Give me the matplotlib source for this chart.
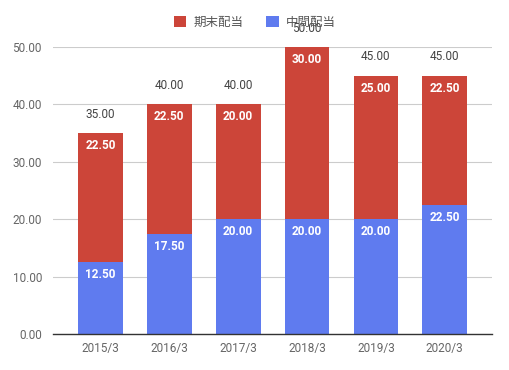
import matplotlib
matplotlib.use("Agg")
import matplotlib.pyplot as plt
import numpy as np

plt.rcParams['font.family'] = ['Roboto', 'Noto Sans CJK JP', 'DejaVu Sans']

categories = ["2015/3", "2016/3", "2017/3", "2018/3", "2019/3", "2020/3"]
interim = [12.5, 17.5, 20.0, 20.0, 20.0, 22.5]   # 中間配当
final = [22.5, 22.5, 20.0, 30.0, 25.0, 22.5]     # 期末配当
series_names = ["期末配当", "中間配当"]
yticks = [0, 10, 20, 30, 40, 50]

red = "#cc4539"
blue = "#5f7bef"

fig = plt.figure(figsize=(5.1, 3.7), dpi=100)
ax = fig.add_axes([0.104, 0.097, 0.861, 0.776])

x = np.arange(len(categories))
w = 0.65
b1 = ax.bar(x, interim, w, color=blue, zorder=2, label=series_names[1])
b2 = ax.bar(x, final, w, bottom=interim, color=red, zorder=2, label=series_names[0])

totals = [a + b for a, b in zip(interim, final)]
for i in range(len(categories)):
    ax.annotate(f"{interim[i]:.2f}", (x[i], interim[i]), xytext=(0, -9),
                textcoords="offset points", ha="center", va="center",
                color="white", fontsize=8.5, fontweight="bold", zorder=3)
    ax.annotate(f"{final[i]:.2f}", (x[i], totals[i]), xytext=(0, -9),
                textcoords="offset points", ha="center", va="center",
                color="white", fontsize=8.5, fontweight="bold", zorder=3)
    ax.annotate(f"{totals[i]:.2f}", (x[i], totals[i]), xytext=(0, 13.5),
                textcoords="offset points", ha="center", va="center",
                color="#444444", fontsize=8.5, zorder=3, annotation_clip=False)

pad = 13 / 69
ax.set_xlim(-0.5 - pad, len(categories) - 0.5 + pad)
ax.set_ylim(0, 50)
ax.set_yticks(yticks)
ax.set_yticklabels([f"{v:.2f}" for v in yticks])
ax.set_xticks(x)
ax.set_xticklabels(categories)
ax.grid(axis="y", color="#cccccc", linewidth=0.8, zorder=0)
ax.tick_params(axis="both", length=0, colors="#666666", labelsize=8.5)
ax.tick_params(axis="y", pad=8)
ax.tick_params(axis="x", pad=6)
for s in ["top", "right", "left"]:
    ax.spines[s].set_visible(False)
ax.spines["bottom"].set_color("#333333")
ax.spines["bottom"].set_linewidth(1)
ax.spines["bottom"].set_zorder(3)

leg = fig.legend(handles=[b2, b1], labels=series_names, loc="center",
                 bbox_to_anchor=(0.5, 0.94), ncol=2, frameon=False,
                 fontsize=9, handlelength=1.0, handleheight=1.0,
                 handletextpad=0.6, columnspacing=1.8)
for t in leg.get_texts():
    t.set_color("#555555")

fig.savefig("out.png", dpi=100)
